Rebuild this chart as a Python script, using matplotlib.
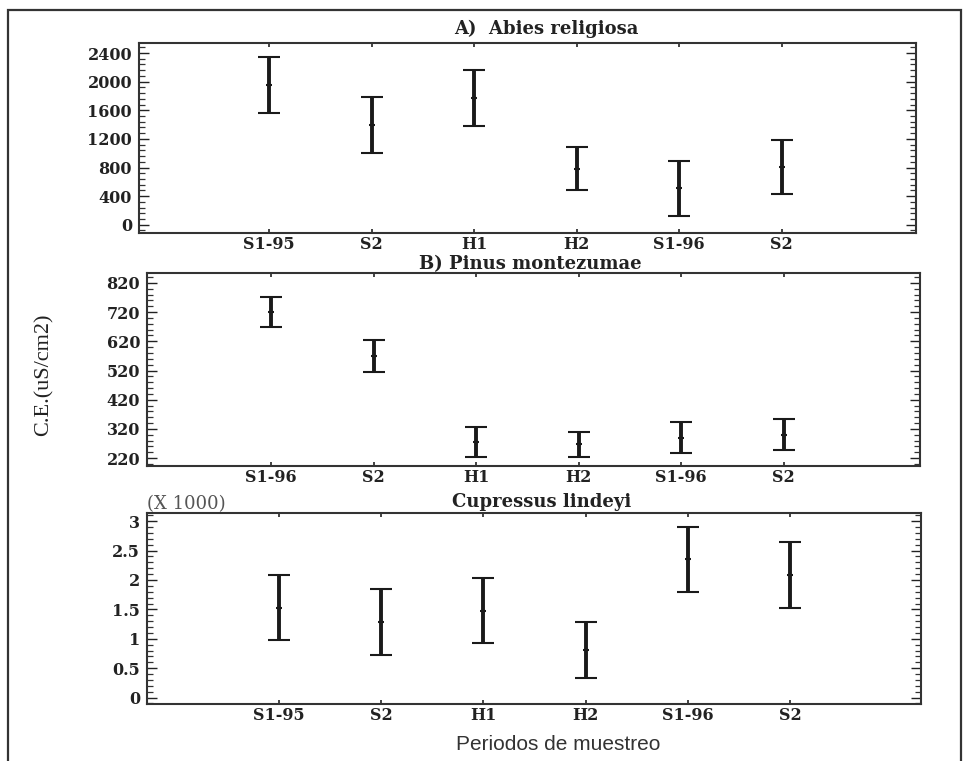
import matplotlib
matplotlib.use("Agg")
import matplotlib.pyplot as plt
from matplotlib.ticker import MultipleLocator
from matplotlib.patches import Rectangle

# ---- data ----
labels_a = ["S1-95", "S2", "H1", "H2", "S1-96", "S2"]
mean_a = [1950, 1390, 1775, 785, 510, 810]
err_a = [390, 390, 390, 300, 385, 380]

labels_b = ["S1-96", "S2", "H1", "H2", "S1-96", "S2"]
mean_b = [720, 570, 275, 268, 290, 300]
err_b = [52, 54, 52, 43, 52, 53]

labels_c = ["S1-95", "S2", "H1", "H2", "S1-96", "S2"]
mean_c = [1.53, 1.28, 1.48, 0.81, 2.35, 2.08]
err_c = [0.55, 0.56, 0.55, 0.47, 0.56, 0.56]

title_a = "A)  Abies religiosa"
title_b = "B) Pinus montezumae"
title_c = "Cupressus lindeyi"
ylabel = "C.E.(uS/cm2)"
xlabel = "Periodos de muestreo"

W, H = 966, 761
fig = plt.figure(figsize=(W / 100, H / 100), dpi=100)
serif = ["DejaVu Serif"]
times = ["Liberation Serif"]

def box(l, r, t, b):
    return [l / W, 1 - b / H, (r - l) / W, (b - t) / H]

panels = [
    (box(139, 916, 43, 233), labels_a, mean_a, err_a, title_a, (546, 29),
     (-0.27, 7.31), (-115, 2540), [0, 400, 800, 1200, 1600, 2000, 2400], 80),
    (box(147, 920, 273, 466), labels_b, mean_b, err_b, title_b, (530, 264),
     (-0.21, 7.33), (193, 854), [220, 320, 420, 520, 620, 720, 820], 20),
    (box(147, 921, 513, 704), labels_c, mean_c, err_c, title_c, (542, 502),
     (-0.29, 7.28), (-0.11, 3.14), [0, 0.5, 1, 1.5, 2, 2.5, 3], 0.1),
]

axes = []
for rect, labs, m, e, title, tpos, xl, yl, yt, minor in panels:
    ax = fig.add_axes(rect)
    x = list(range(1, len(labs) + 1))
    ax.errorbar(x, m, yerr=e, fmt="+", color="#1a1a1a", ecolor="#1a1a1a",
                elinewidth=2.8, capsize=8, capthick=2.4, markersize=5,
                markeredgewidth=1.5)
    ax.set_xlim(*xl)
    ax.set_ylim(*yl)
    ax.set_xticks(x)
    ax.set_xticklabels(labs, fontfamily=serif, fontweight="bold", fontsize=11.5,
                       color="#222222")
    ax.set_yticks(yt)
    ax.set_yticklabels([("%g" % v) for v in yt], fontfamily=serif,
                       fontweight="bold", fontsize=11.5, color="#222222")
    ax.yaxis.set_minor_locator(MultipleLocator(minor))
    ax.tick_params(axis="y", which="major", direction="in", length=7,
                   width=1.0, left=True, right=True, pad=5, colors="#222222")
    ax.tick_params(axis="y", which="minor", direction="in", length=4,
                   width=0.9, left=True, right=True, colors="#333333")
    ax.tick_params(axis="x", which="major", direction="in", length=3,
                   width=1.2, top=True, bottom=True, pad=2, colors="#222222")
    for s in ax.spines.values():
        s.set_linewidth(1.5)
        s.set_color("#333333")
    fig.text(tpos[0] / W, 1 - tpos[1] / H, title, ha="center", va="center",
             fontfamily=serif, fontweight="bold", fontsize=13, color="#222222")
    axes.append(ax)

# multiplier note on panel C
axes[2].text(0.0, 1.002, "(X 1000)", transform=axes[2].transAxes,
             fontfamily=serif, fontsize=13, color="#555555",
             ha="left", va="bottom")

fig.text(44 / W, 1 - 375 / H, ylabel, rotation=90, ha="center", va="center",
         fontfamily=times, fontsize=16, color="#222222")
fig.text(558 / W, 1 - 745 / H, xlabel, ha="center", va="center",
         fontfamily=["Liberation Sans Narrow", "Liberation Sans"],
         fontsize=15, color="#333333")

# outer frame
fig.patches.append(Rectangle((8 / W, -0.01), (961 - 8) / W, 1.01 - 10 / H,
                             transform=fig.transFigure, fill=False,
                             linewidth=1.6, edgecolor="#333333"))

fig.savefig("out.png", dpi=100)
